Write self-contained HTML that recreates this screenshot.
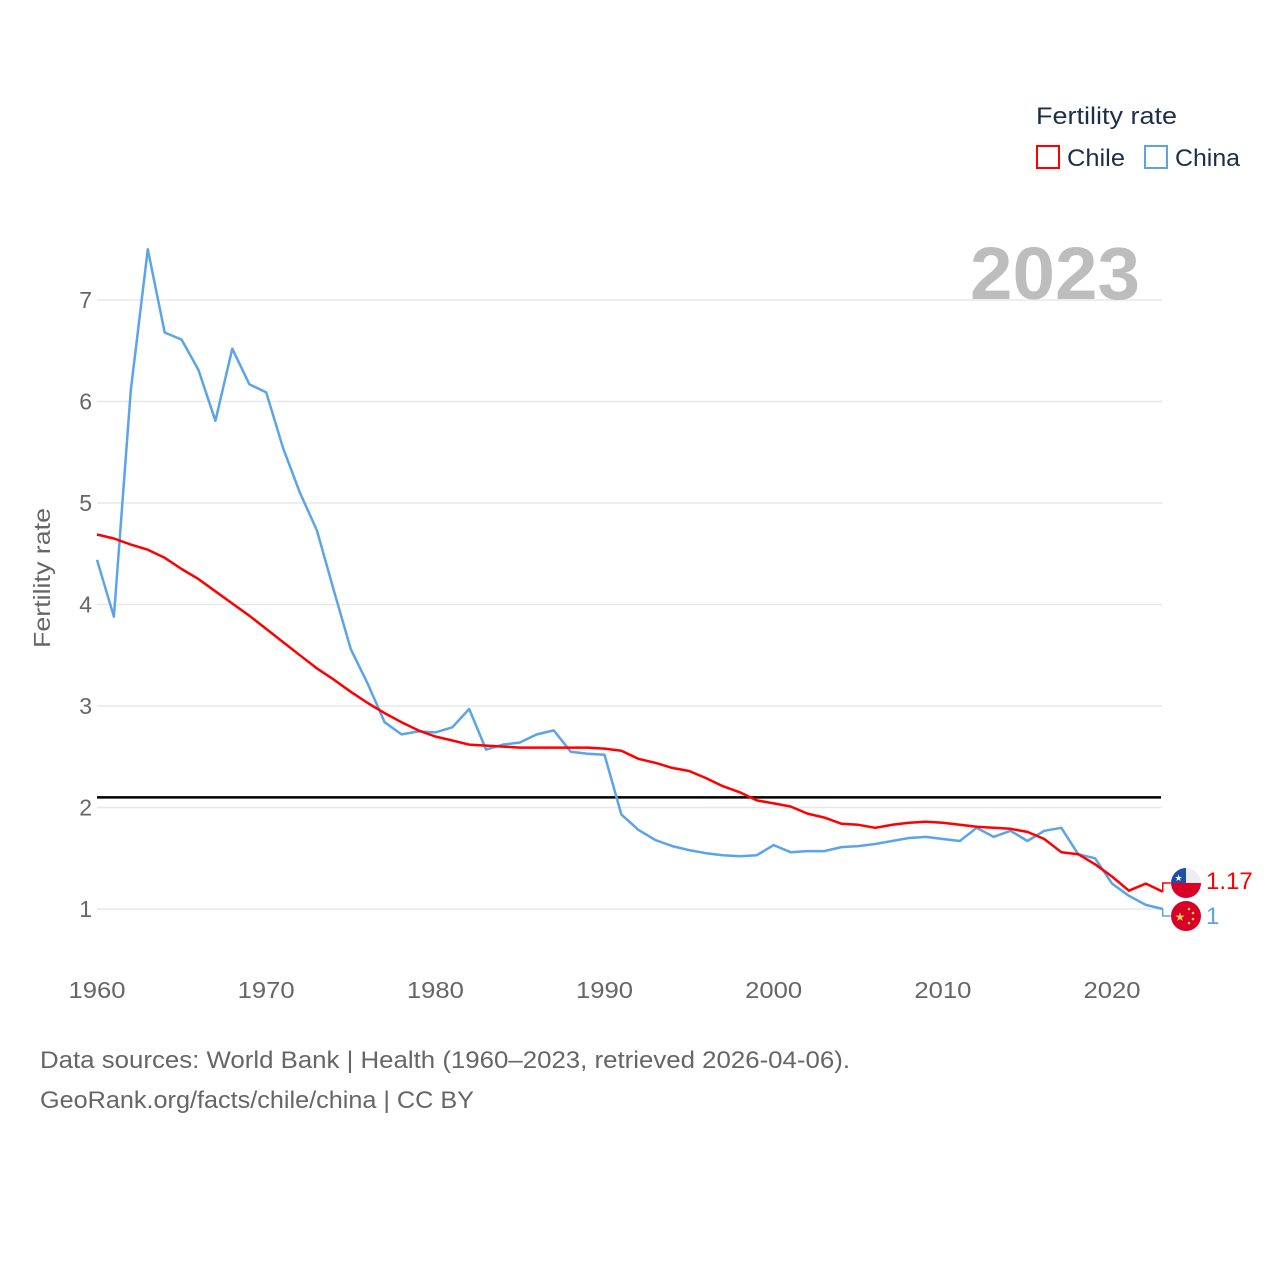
<!DOCTYPE html>
<html><head><meta charset="utf-8"><style>
html,body{margin:0;padding:0;background:#fff;}
svg{display:block;font-family:"Liberation Sans",sans-serif;}
</style></head><body>
<svg id="chart" width="1280" height="1280" viewBox="0 0 1280 1280">
<g id="grid"></g>
<g id="yticks"></g>
<g id="xticks"></g>
<text x="50" y="578" transform="rotate(-90 50 578)" text-anchor="middle" font-size="23" fill="#666" textLength="140" lengthAdjust="spacingAndGlyphs">Fertility rate</text>
<text x="1140" y="299" text-anchor="end" font-size="74" font-weight="bold" fill="#bdbdbd" textLength="170" lengthAdjust="spacingAndGlyphs">2023</text>
<line id="repl" stroke="#000" stroke-width="2.5"></line>
<g id="series"></g>
<g>
<text x="1036" y="124" font-size="24" fill="#1c2e4a" textLength="141" lengthAdjust="spacingAndGlyphs">Fertility rate</text>
<rect x="1037" y="146" width="22" height="22" fill="none" stroke="#f00" stroke-width="2"/>
<text x="1067" y="166" font-size="24" fill="#1c2e4a" textLength="58" lengthAdjust="spacingAndGlyphs">Chile</text>
<rect x="1145" y="146" width="22" height="22" fill="none" stroke="#5ba4e8" stroke-width="2"/>
<text x="1175" y="166" font-size="24" fill="#1c2e4a" textLength="65" lengthAdjust="spacingAndGlyphs">China</text>
</g>
<g>
<clipPath id="cc"><circle cx="1186" cy="883" r="15"/></clipPath>
<g clip-path="url(#cc)"><rect x="1171" y="868" width="30" height="15" fill="#eee"/><rect x="1171" y="868" width="15" height="15" fill="#1b4fa8"/><rect x="1171" y="883" width="30" height="15" fill="#d80027"/><text x="1178.5" y="881" font-size="9" fill="#fff" text-anchor="middle">★</text></g>
</g>
<g>
<circle cx="1186" cy="916" r="15" fill="#d80027"/>
<text x="1180" y="921" font-size="12" fill="#ffda44" text-anchor="middle">★</text>
<circle cx="1189" cy="909" r="1.3" fill="#ffda44"/><circle cx="1193" cy="913" r="1.3" fill="#ffda44"/><circle cx="1193" cy="919" r="1.3" fill="#ffda44"/><circle cx="1189" cy="923" r="1.3" fill="#ffda44"/>
</g>
<text x="1206" y="889" font-size="24" fill="#f00">1.17</text>
<text x="1206" y="924" font-size="24" fill="#5ba4e8">1</text>
<text x="40" y="1068" font-size="24" fill="#666" textLength="810" lengthAdjust="spacingAndGlyphs">Data sources: World Bank | Health (1960–2023, retrieved 2026-04-06).</text>
<text x="40" y="1108" font-size="24" fill="#666" textLength="434" lengthAdjust="spacingAndGlyphs">GeoRank.org/facts/chile/china | CC BY</text>
</svg>
<script>
const years = [];
for (let y = 1960; y <= 2023; y++) years.push(y);
const chile = [4.69,4.65,4.59,4.54,4.46,4.35,4.25,4.13,4.01,3.89,3.76,3.63,3.50,3.37,3.26,3.14,3.03,2.93,2.84,2.76,2.70,2.66,2.62,2.61,2.60,2.59,2.59,2.59,2.59,2.59,2.58,2.56,2.48,2.44,2.39,2.36,2.29,2.21,2.15,2.07,2.04,2.01,1.94,1.90,1.84,1.83,1.80,1.83,1.85,1.86,1.85,1.83,1.81,1.80,1.79,1.76,1.69,1.56,1.54,1.44,1.32,1.18,1.25,1.17];
const china = [4.44,3.88,6.11,7.50,6.68,6.61,6.31,5.81,6.52,6.17,6.09,5.54,5.10,4.73,4.14,3.56,3.22,2.84,2.72,2.75,2.74,2.79,2.97,2.57,2.62,2.64,2.72,2.76,2.55,2.53,2.52,1.93,1.78,1.68,1.62,1.58,1.55,1.53,1.52,1.53,1.63,1.56,1.57,1.57,1.61,1.62,1.64,1.67,1.70,1.71,1.69,1.67,1.80,1.71,1.77,1.67,1.77,1.80,1.54,1.50,1.25,1.13,1.04,1.00];
const yTicks = [1,2,3,4,5,6,7];
const xTicks = [1960,1970,1980,1990,2000,2010,2020];
const replacement = 2.1;
const NS = "http://www.w3.org/2000/svg";
const xs = v => 97 + (v - 1960) * (1015 / 60);
const ys = v => 909 - (v - 1) * 101.5;
function mk(tag, attrs, parent) { const e = document.createElementNS(NS, tag); for (const k in attrs) e.setAttribute(k, attrs[k]); parent.appendChild(e); return e; }
const grid = document.getElementById('grid'), yt = document.getElementById('yticks'), xt = document.getElementById('xticks');
yTicks.forEach(t => {
  const l = mk('line', {x1: 97, x2: 1162, y1: ys(t), y2: ys(t), stroke: '#e8e8e8', 'stroke-width': 1.5}, grid);
  
  
  const tx = mk('text', {x: 92, y: ys(t) + 8, 'text-anchor': 'end', 'font-size': 23, fill: '#666'}, yt);
  tx.textContent = t;
  
  
});
xTicks.forEach(t => {
  const tx = mk('text', {x: xs(t), y: 998, 'text-anchor': 'middle', 'font-size': 23, fill: '#666', textLength: 57, lengthAdjust: 'spacingAndGlyphs'}, xt);
  tx.textContent = t;
  
  
});
const r = document.getElementById('repl');
r.setAttribute('x1', 97); r.setAttribute('x2', 1161);
r.setAttribute('y1', ys(replacement)); r.setAttribute('y2', ys(replacement));
const sg = document.getElementById('series');
function line(vals, color, name, flagY) {
  const pts = vals.map((v, i) => xs(years[i]).toFixed(1) + ',' + ys(v).toFixed(1)).join(' ');
  const p = mk('polyline', {points: pts, fill: 'none', stroke: color, 'stroke-width': 2.5, 'stroke-linejoin': 'round'}, sg);
  
  
  const lx = xs(years[years.length - 1]), ly = ys(vals[vals.length - 1]);
  const c = mk('polyline', {points: `${lx},${ly} ${lx},${flagY} ${lx + 8},${flagY}`, fill: 'none', stroke: color, 'stroke-width': 1.5}, sg);
  
  
}
line(china, '#5ba4e8', 'line-china', 916);
line(chile, '#ff0000', 'line-chile', 883);
</script>
</body></html>
